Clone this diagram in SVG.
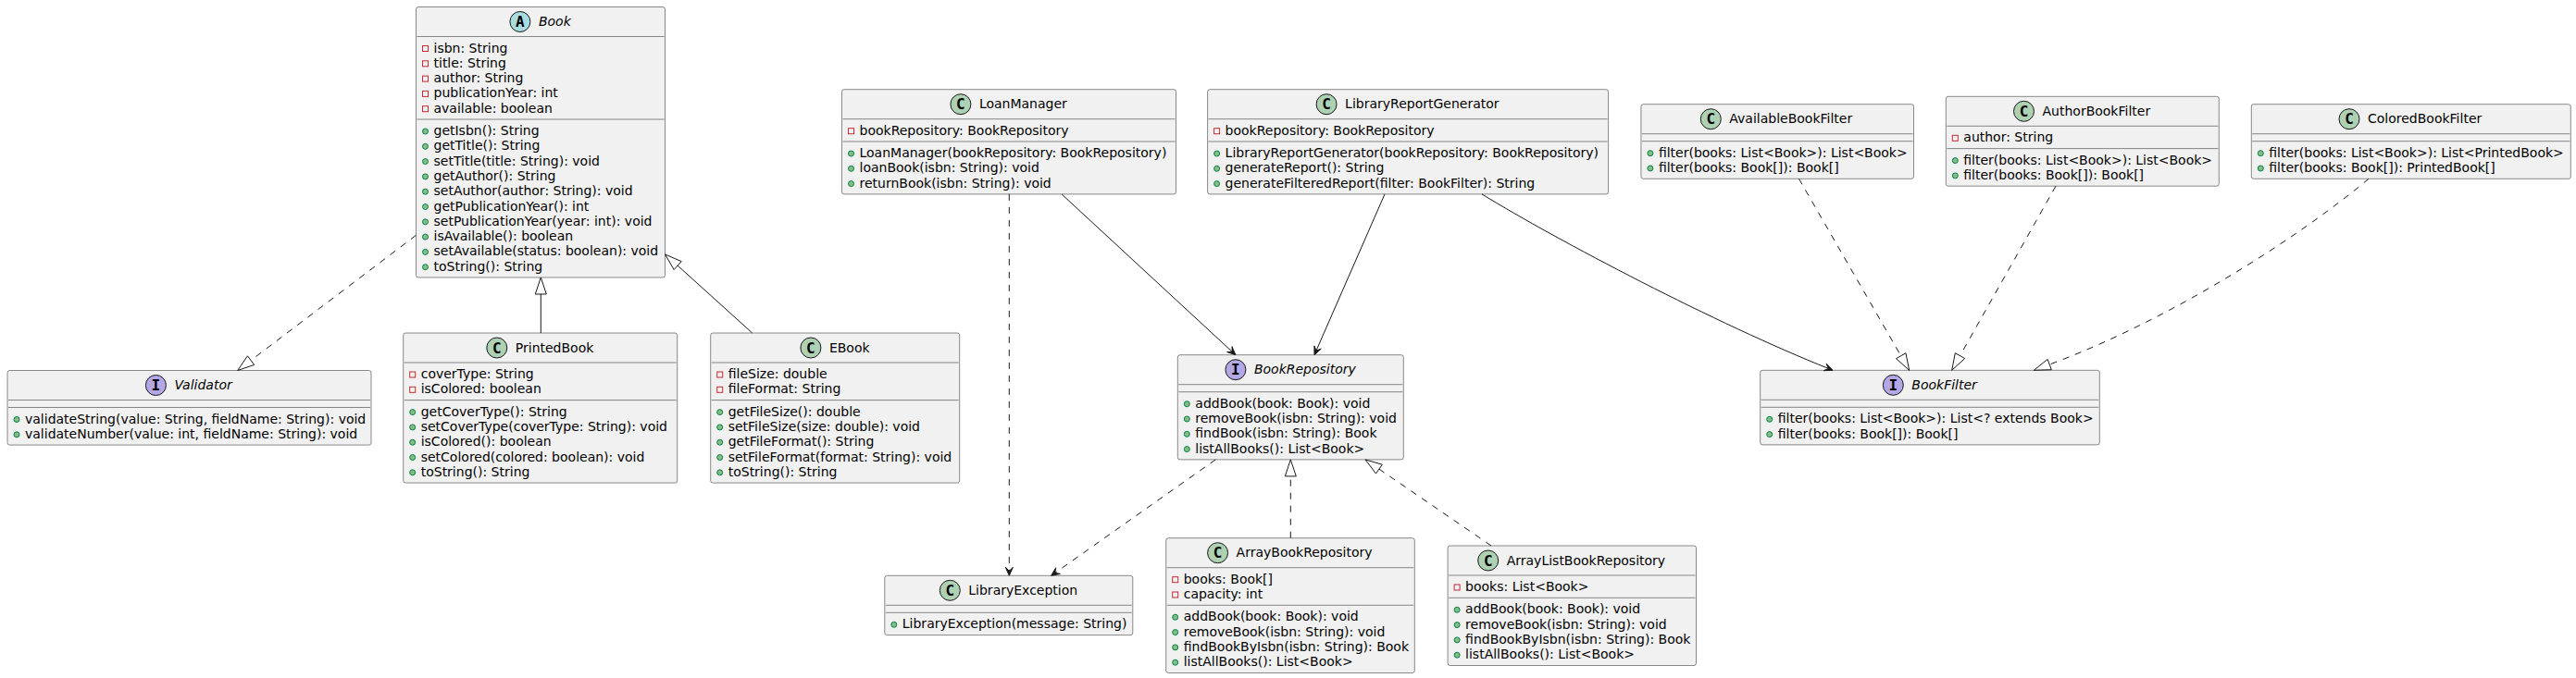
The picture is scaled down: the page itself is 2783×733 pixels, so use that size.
<svg xmlns="http://www.w3.org/2000/svg" width="2783" height="733" viewBox="0 0 2783 733">
<style>
.bg{fill:#FFFFFF}
.box{fill:#F1F1F1;stroke:#181818;stroke-width:0.5}
.dv{stroke:#181818;stroke-width:0.5}
.t{font-family:"DejaVu Sans","Noto Sans",sans-serif;font-size:14px;fill:#000000}
.ti{font-style:italic}
.priv{fill:none;stroke:#C82930;stroke-width:1}
.pub{fill:#84BE84;stroke:#038048;stroke-width:1}
.circ{stroke:#181818;stroke-width:1}
.cc{fill:#ADD1B2}
.ca{fill:#A9DCDF}
.ci{fill:#B4A7E5}
.lt{font-family:"DejaVu Sans Mono","Liberation Mono",monospace;font-weight:bold;font-size:16px;fill:#000000;text-anchor:middle}
.ln{fill:none;stroke:#181818;stroke-width:1}
.dash{stroke-dasharray:7,7}
.tri{fill:none;stroke:#181818;stroke-width:1}
.ah{fill:#181818;stroke:#181818;stroke-width:1}
</style>
<rect class="bg" x="0" y="0" width="2783" height="733"/>

<g id="Book">
<rect class="box" x="449.5" y="7.5" width="269" height="292.5" rx="2.5"/>
<ellipse class="circ ca" cx="561.9" cy="23.5" rx="11" ry="11"/>
<text class="lt" x="561.9" y="29">A</text>
<text class="t ti" x="581.9" y="28">Book</text>
<line class="dv" x1="450.5" x2="717.5" y1="39.5" y2="39.5"/>
<rect class="priv" x="456.5" y="49.5" width="6" height="6"/><text class="t" x="468.5" y="56.5">isbn: String</text>
<rect class="priv" x="456.5" y="65.8" width="6" height="6"/><text class="t" x="468.5" y="72.8">title: String</text>
<rect class="priv" x="456.5" y="82.1" width="6" height="6"/><text class="t" x="468.5" y="89.1">author: String</text>
<rect class="priv" x="456.5" y="98.4" width="6" height="6"/><text class="t" x="468.5" y="105.4">publicationYear: int</text>
<rect class="priv" x="456.5" y="114.7" width="6" height="6"/><text class="t" x="468.5" y="121.7">available: boolean</text>
<line class="dv" x1="450.5" x2="717.5" y1="129" y2="129"/>
<ellipse class="pub" cx="459.5" cy="142" rx="3" ry="3"/><text class="t" x="468.5" y="146">getIsbn(): String</text>
<ellipse class="pub" cx="459.5" cy="158.3" rx="3" ry="3"/><text class="t" x="468.5" y="162.3">getTitle(): String</text>
<ellipse class="pub" cx="459.5" cy="174.6" rx="3" ry="3"/><text class="t" x="468.5" y="178.6">setTitle(title: String): void</text>
<ellipse class="pub" cx="459.5" cy="190.9" rx="3" ry="3"/><text class="t" x="468.5" y="194.9">getAuthor(): String</text>
<ellipse class="pub" cx="459.5" cy="207.2" rx="3" ry="3"/><text class="t" x="468.5" y="211.2">setAuthor(author: String): void</text>
<ellipse class="pub" cx="459.5" cy="223.5" rx="3" ry="3"/><text class="t" x="468.5" y="227.5">getPublicationYear(): int</text>
<ellipse class="pub" cx="459.5" cy="239.8" rx="3" ry="3"/><text class="t" x="468.5" y="243.8">setPublicationYear(year: int): void</text>
<ellipse class="pub" cx="459.5" cy="256.1" rx="3" ry="3"/><text class="t" x="468.5" y="260.1">isAvailable(): boolean</text>
<ellipse class="pub" cx="459.5" cy="272.4" rx="3" ry="3"/><text class="t" x="468.5" y="276.4">setAvailable(status: boolean): void</text>
<ellipse class="pub" cx="459.5" cy="288.7" rx="3" ry="3"/><text class="t" x="468.5" y="292.7">toString(): String</text>
</g>

<g id="Validator">
<rect class="box" x="8" y="400.5" width="393" height="80.6" rx="2.5"/>
<ellipse class="circ ci" cx="168.4" cy="416.5" rx="11" ry="11"/>
<text class="lt" x="168.4" y="422">I</text>
<text class="t ti" x="188.4" y="421">Validator</text>
<line class="dv" x1="9" x2="400" y1="432.5" y2="432.5"/>
<line class="dv" x1="9" x2="400" y1="440.5" y2="440.5"/>
<ellipse class="pub" cx="18" cy="453.5" rx="3" ry="3"/><text class="t" x="27" y="457.5">validateString(value: String, fieldName: String): void</text>
<ellipse class="pub" cx="18" cy="469.8" rx="3" ry="3"/><text class="t" x="27" y="473.8">validateNumber(value: int, fieldName: String): void</text>
</g>

<g id="PrintedBook">
<rect class="box" x="435.7" y="360" width="296" height="162.1" rx="2.5"/>
<ellipse class="circ cc" cx="536.8" cy="376" rx="11" ry="11"/>
<text class="lt" x="536.8" y="381.5">C</text>
<text class="t" x="556.8" y="380.5">PrintedBook</text>
<line class="dv" x1="436.7" x2="730.7" y1="392" y2="392"/>
<rect class="priv" x="442.7" y="402" width="6" height="6"/><text class="t" x="454.7" y="409">coverType: String</text>
<rect class="priv" x="442.7" y="418.3" width="6" height="6"/><text class="t" x="454.7" y="425.3">isColored: boolean</text>
<line class="dv" x1="436.7" x2="730.7" y1="432.6" y2="432.6"/>
<ellipse class="pub" cx="445.7" cy="445.6" rx="3" ry="3"/><text class="t" x="454.7" y="449.6">getCoverType(): String</text>
<ellipse class="pub" cx="445.7" cy="461.9" rx="3" ry="3"/><text class="t" x="454.7" y="465.9">setCoverType(coverType: String): void</text>
<ellipse class="pub" cx="445.7" cy="478.2" rx="3" ry="3"/><text class="t" x="454.7" y="482.2">isColored(): boolean</text>
<ellipse class="pub" cx="445.7" cy="494.5" rx="3" ry="3"/><text class="t" x="454.7" y="498.5">setColored(colored: boolean): void</text>
<ellipse class="pub" cx="445.7" cy="510.8" rx="3" ry="3"/><text class="t" x="454.7" y="514.8">toString(): String</text>
</g>

<g id="EBook">
<rect class="box" x="767.7" y="360" width="269" height="162.1" rx="2.5"/>
<ellipse class="circ cc" cx="875.9" cy="376" rx="11" ry="11"/>
<text class="lt" x="875.9" y="381.5">C</text>
<text class="t" x="895.9" y="380.5">EBook</text>
<line class="dv" x1="768.7" x2="1035.7" y1="392" y2="392"/>
<rect class="priv" x="774.7" y="402" width="6" height="6"/><text class="t" x="786.7" y="409">fileSize: double</text>
<rect class="priv" x="774.7" y="418.3" width="6" height="6"/><text class="t" x="786.7" y="425.3">fileFormat: String</text>
<line class="dv" x1="768.7" x2="1035.7" y1="432.6" y2="432.6"/>
<ellipse class="pub" cx="777.7" cy="445.6" rx="3" ry="3"/><text class="t" x="786.7" y="449.6">getFileSize(): double</text>
<ellipse class="pub" cx="777.7" cy="461.9" rx="3" ry="3"/><text class="t" x="786.7" y="465.9">setFileSize(size: double): void</text>
<ellipse class="pub" cx="777.7" cy="478.2" rx="3" ry="3"/><text class="t" x="786.7" y="482.2">getFileFormat(): String</text>
<ellipse class="pub" cx="777.7" cy="494.5" rx="3" ry="3"/><text class="t" x="786.7" y="498.5">setFileFormat(format: String): void</text>
<ellipse class="pub" cx="777.7" cy="510.8" rx="3" ry="3"/><text class="t" x="786.7" y="514.8">toString(): String</text>
</g>

<g id="LoanManager">
<rect class="box" x="909.5" y="96.7" width="361" height="113.2" rx="2.5"/>
<ellipse class="circ cc" cx="1037.9" cy="112.7" rx="11" ry="11"/>
<text class="lt" x="1037.9" y="118.2">C</text>
<text class="t" x="1057.9" y="117.2">LoanManager</text>
<line class="dv" x1="910.5" x2="1269.5" y1="128.7" y2="128.7"/>
<rect class="priv" x="916.5" y="138.7" width="6" height="6"/><text class="t" x="928.5" y="145.7">bookRepository: BookRepository</text>
<line class="dv" x1="910.5" x2="1269.5" y1="153" y2="153"/>
<ellipse class="pub" cx="919.5" cy="166" rx="3" ry="3"/><text class="t" x="928.5" y="170">LoanManager(bookRepository: BookRepository)</text>
<ellipse class="pub" cx="919.5" cy="182.3" rx="3" ry="3"/><text class="t" x="928.5" y="186.3">loanBook(isbn: String): void</text>
<ellipse class="pub" cx="919.5" cy="198.6" rx="3" ry="3"/><text class="t" x="928.5" y="202.6">returnBook(isbn: String): void</text>
</g>

<g id="LibraryReportGenerator">
<rect class="box" x="1304.6" y="96.7" width="433" height="113.2" rx="2.5"/>
<ellipse class="circ cc" cx="1433.1" cy="112.7" rx="11" ry="11"/>
<text class="lt" x="1433.1" y="118.2">C</text>
<text class="t" x="1453.1" y="117.2">LibraryReportGenerator</text>
<line class="dv" x1="1305.6" x2="1736.6" y1="128.7" y2="128.7"/>
<rect class="priv" x="1311.6" y="138.7" width="6" height="6"/><text class="t" x="1323.6" y="145.7">bookRepository: BookRepository</text>
<line class="dv" x1="1305.6" x2="1736.6" y1="153" y2="153"/>
<ellipse class="pub" cx="1314.6" cy="166" rx="3" ry="3"/><text class="t" x="1323.6" y="170">LibraryReportGenerator(bookRepository: BookRepository)</text>
<ellipse class="pub" cx="1314.6" cy="182.3" rx="3" ry="3"/><text class="t" x="1323.6" y="186.3">generateReport(): String</text>
<ellipse class="pub" cx="1314.6" cy="198.6" rx="3" ry="3"/><text class="t" x="1323.6" y="202.6">generateFilteredReport(filter: BookFilter): String</text>
</g>

<g id="AvailableBookFilter">
<rect class="box" x="1772.9" y="112.7" width="294.6" height="80.6" rx="2.5"/>
<ellipse class="circ cc" cx="1848.3" cy="128.7" rx="11" ry="11"/>
<text class="lt" x="1848.3" y="134.2">C</text>
<text class="t" x="1868.3" y="133.2">AvailableBookFilter</text>
<line class="dv" x1="1773.9" x2="2066.5" y1="144.7" y2="144.7"/>
<line class="dv" x1="1773.9" x2="2066.5" y1="152.7" y2="152.7"/>
<ellipse class="pub" cx="1782.9" cy="165.7" rx="3" ry="3"/><text class="t" x="1791.9" y="169.7">filter(books: List&lt;Book&gt;): List&lt;Book&gt;</text>
<ellipse class="pub" cx="1782.9" cy="182" rx="3" ry="3"/><text class="t" x="1791.9" y="186">filter(books: Book[]): Book[]</text>
</g>

<g id="AuthorBookFilter">
<rect class="box" x="2102.3" y="104.3" width="295" height="96.9" rx="2.5"/>
<ellipse class="circ cc" cx="2186.5" cy="120.3" rx="11" ry="11"/>
<text class="lt" x="2186.5" y="125.8">C</text>
<text class="t" x="2206.5" y="124.8">AuthorBookFilter</text>
<line class="dv" x1="2103.3" x2="2396.3" y1="136.3" y2="136.3"/>
<rect class="priv" x="2109.3" y="146.3" width="6" height="6"/><text class="t" x="2121.3" y="153.3">author: String</text>
<line class="dv" x1="2103.3" x2="2396.3" y1="160.6" y2="160.6"/>
<ellipse class="pub" cx="2112.3" cy="173.6" rx="3" ry="3"/><text class="t" x="2121.3" y="177.6">filter(books: List&lt;Book&gt;): List&lt;Book&gt;</text>
<ellipse class="pub" cx="2112.3" cy="189.9" rx="3" ry="3"/><text class="t" x="2121.3" y="193.9">filter(books: Book[]): Book[]</text>
</g>

<g id="ColoredBookFilter">
<rect class="box" x="2432.3" y="112.7" width="345" height="80.6" rx="2.5"/>
<ellipse class="circ cc" cx="2538" cy="128.7" rx="11" ry="11"/>
<text class="lt" x="2538" y="134.2">C</text>
<text class="t" x="2558" y="133.2">ColoredBookFilter</text>
<line class="dv" x1="2433.3" x2="2776.3" y1="144.7" y2="144.7"/>
<line class="dv" x1="2433.3" x2="2776.3" y1="152.7" y2="152.7"/>
<ellipse class="pub" cx="2442.3" cy="165.7" rx="3" ry="3"/><text class="t" x="2451.3" y="169.7">filter(books: List&lt;Book&gt;): List&lt;PrintedBook&gt;</text>
<ellipse class="pub" cx="2442.3" cy="182" rx="3" ry="3"/><text class="t" x="2451.3" y="186">filter(books: Book[]): PrintedBook[]</text>
</g>

<g id="BookRepository">
<rect class="box" x="1272.3" y="383.7" width="244" height="113.2" rx="2.5"/>
<ellipse class="circ ci" cx="1334.9" cy="399.7" rx="11" ry="11"/>
<text class="lt" x="1334.9" y="405.2">I</text>
<text class="t ti" x="1354.9" y="404.2">BookRepository</text>
<line class="dv" x1="1273.3" x2="1515.3" y1="415.7" y2="415.7"/>
<line class="dv" x1="1273.3" x2="1515.3" y1="423.7" y2="423.7"/>
<ellipse class="pub" cx="1282.3" cy="436.7" rx="3" ry="3"/><text class="t" x="1291.3" y="440.7">addBook(book: Book): void</text>
<ellipse class="pub" cx="1282.3" cy="453" rx="3" ry="3"/><text class="t" x="1291.3" y="457">removeBook(isbn: String): void</text>
<ellipse class="pub" cx="1282.3" cy="469.3" rx="3" ry="3"/><text class="t" x="1291.3" y="473.3">findBook(isbn: String): Book</text>
<ellipse class="pub" cx="1282.3" cy="485.6" rx="3" ry="3"/><text class="t" x="1291.3" y="489.6">listAllBooks(): List&lt;Book&gt;</text>
</g>

<g id="BookFilter">
<rect class="box" x="1901.7" y="400.3" width="366.6" height="80.6" rx="2.5"/>
<ellipse class="circ ci" cx="2045.3" cy="416.3" rx="11" ry="11"/>
<text class="lt" x="2045.3" y="421.8">I</text>
<text class="t ti" x="2065.3" y="420.8">BookFilter</text>
<line class="dv" x1="1902.7" x2="2267.3" y1="432.3" y2="432.3"/>
<line class="dv" x1="1902.7" x2="2267.3" y1="440.3" y2="440.3"/>
<ellipse class="pub" cx="1911.7" cy="453.3" rx="3" ry="3"/><text class="t" x="1920.7" y="457.3">filter(books: List&lt;Book&gt;): List&lt;? extends Book&gt;</text>
<ellipse class="pub" cx="1911.7" cy="469.6" rx="3" ry="3"/><text class="t" x="1920.7" y="473.6">filter(books: Book[]): Book[]</text>
</g>

<g id="LibraryException">
<rect class="box" x="955.8" y="622.3" width="268" height="64.3" rx="2.5"/>
<ellipse class="circ cc" cx="1026.3" cy="638.3" rx="11" ry="11"/>
<text class="lt" x="1026.3" y="643.8">C</text>
<text class="t" x="1046.3" y="642.8">LibraryException</text>
<line class="dv" x1="956.8" x2="1222.8" y1="654.3" y2="654.3"/>
<line class="dv" x1="956.8" x2="1222.8" y1="662.3" y2="662.3"/>
<ellipse class="pub" cx="965.8" cy="675.3" rx="3" ry="3"/><text class="t" x="974.8" y="679.3">LibraryException(message: String)</text>
</g>

<g id="ArrayBookRepository">
<rect class="box" x="1259.7" y="581.7" width="268.6" height="145.8" rx="2.5"/>
<ellipse class="circ cc" cx="1315.6" cy="597.7" rx="11" ry="11"/>
<text class="lt" x="1315.6" y="603.2">C</text>
<text class="t" x="1335.6" y="602.2">ArrayBookRepository</text>
<line class="dv" x1="1260.7" x2="1527.3" y1="613.7" y2="613.7"/>
<rect class="priv" x="1266.7" y="623.7" width="6" height="6"/><text class="t" x="1278.7" y="630.7">books: Book[]</text>
<rect class="priv" x="1266.7" y="640" width="6" height="6"/><text class="t" x="1278.7" y="647">capacity: int</text>
<line class="dv" x1="1260.7" x2="1527.3" y1="654.3" y2="654.3"/>
<ellipse class="pub" cx="1269.7" cy="667.3" rx="3" ry="3"/><text class="t" x="1278.7" y="671.3">addBook(book: Book): void</text>
<ellipse class="pub" cx="1269.7" cy="683.6" rx="3" ry="3"/><text class="t" x="1278.7" y="687.6">removeBook(isbn: String): void</text>
<ellipse class="pub" cx="1269.7" cy="699.9" rx="3" ry="3"/><text class="t" x="1278.7" y="703.9">findBookByIsbn(isbn: String): Book</text>
<ellipse class="pub" cx="1269.7" cy="716.2" rx="3" ry="3"/><text class="t" x="1278.7" y="720.2">listAllBooks(): List&lt;Book&gt;</text>
</g>

<g id="ArrayListBookRepository">
<rect class="box" x="1564.1" y="590" width="268.4" height="129.5" rx="2.5"/>
<ellipse class="circ cc" cx="1607.7" cy="606" rx="11" ry="11"/>
<text class="lt" x="1607.7" y="611.5">C</text>
<text class="t" x="1627.7" y="610.5">ArrayListBookRepository</text>
<line class="dv" x1="1565.1" x2="1831.5" y1="622" y2="622"/>
<rect class="priv" x="1571.1" y="632" width="6" height="6"/><text class="t" x="1583.1" y="639">books: List&lt;Book&gt;</text>
<line class="dv" x1="1565.1" x2="1831.5" y1="646.3" y2="646.3"/>
<ellipse class="pub" cx="1574.1" cy="659.3" rx="3" ry="3"/><text class="t" x="1583.1" y="663.3">addBook(book: Book): void</text>
<ellipse class="pub" cx="1574.1" cy="675.6" rx="3" ry="3"/><text class="t" x="1583.1" y="679.6">removeBook(isbn: String): void</text>
<ellipse class="pub" cx="1574.1" cy="691.9" rx="3" ry="3"/><text class="t" x="1583.1" y="695.9">findBookByIsbn(isbn: String): Book</text>
<ellipse class="pub" cx="1574.1" cy="708.2" rx="3" ry="3"/><text class="t" x="1583.1" y="712.2">listAllBooks(): List&lt;Book&gt;</text>
</g>

<g id="connectors">
<path class="ln dash" d="M449.5,254.3 L271.05,389.6"/>
<polygon class="tri" points="256.7,400.5 274.7,394.4 267.4,384.8"/>
<path class="ln" d="M584.3,360 L584.3,317.8"/>
<polygon class="tri" points="584.3,300 578.3,318 590.3,318"/>
<path class="ln" d="M812.7,360 L732.1,287.1"/>
<polygon class="tri" points="718.5,275 728.1,291.5 736.2,282.6"/>
<path class="ln" d="M1147,209.9 L1331.2,380.3"/>
<polygon class="ah" points="1334.9,383.7 1325.6,380.5 1331.2,380.3 1331,374.7"/>
<path class="ln" d="M1496,209.9 L1422,379.1"/>
<polygon class="ah" points="1420,383.7 1419.9,373.9 1422,379.1 1427.3,377.1"/>
<path class="ln" d="M1601,209.9 C1682.5,259.9 1855,350.4 1975.4,398.4"/>
<polygon class="ah" points="1980,400.3 1970.2,400.7 1975.4,398.4 1973.1,393.2"/>
<path class="ln dash" d="M1090.3,209.9 L1090.3,617.3"/>
<polygon class="ah" points="1090.3,622.3 1086.3,613.3 1090.3,617.3 1094.3,613.3"/>
<path class="ln dash" d="M1313.3,496.9 L1139.8,619.4"/>
<polygon class="ah" points="1135.7,622.3 1140.7,613.8 1139.8,619.4 1145.4,620.4"/>
<path class="ln dash" d="M1394.3,581.7 L1394.3,514.9"/>
<polygon class="tri" points="1394.3,496.9 1388.3,514.9 1400.3,514.9"/>
<path class="ln dash" d="M1611,590 L1489.9,507.1"/>
<polygon class="tri" points="1475,496.9 1486.5,512 1493.3,502.2"/>
<path class="ln dash" d="M1943.5,193.3 L2053.7,384.7"/>
<polygon class="tri" points="2062.7,400.3 2058.9,381.7 2048.5,387.7"/>
<path class="ln dash" d="M2221,201.2 L2117.5,384.6"/>
<polygon class="tri" points="2108.7,400.3 2122.7,387.5 2112.3,381.7"/>
<path class="ln dash" d="M2559,193.3 C2487.6,253.3 2349.2,344.05 2214.2,394.05"/>
<polygon class="tri" points="2197.3,400.3 2216.3,399.7 2212.1,388.4"/>
</g>
</svg>
